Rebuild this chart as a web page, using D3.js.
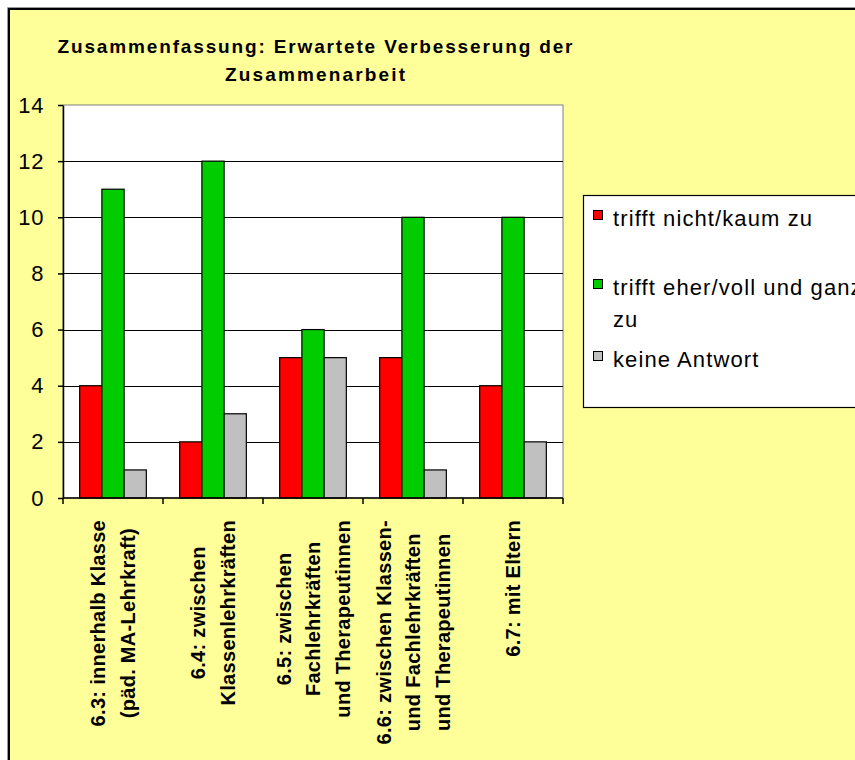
<!DOCTYPE html>
<html>
<head>
<meta charset="utf-8">
<script src="https://cdn.jsdelivr.net/npm/d3@7"></script>
<style>
    body { margin: 0; background: #fff; }
    svg { display: block; font-family: "Liberation Sans", Arial, sans-serif; }
</style>
</head>
<body>
<div id="chart"></div>
<script>
const categories = [
    ['6.3: innerhalb Klasse', '(päd. MA-Lehrkraft)'],
    ['6.4: zwischen', 'Klassenlehrkräften'],
    ['6.5: zwischen', 'Fachlehrkräften', 'und Therapeutinnen'],
    ['6.6: zwischen Klassen-', 'und Fachlehrkräften', 'und Therapeutinnen'],
    ['6.7: mit Eltern']
];
const seriesNames = ['trifft nicht/kaum zu', 'trifft eher/voll und ganz zu', 'keine Antwort'];
const nichtKaum = [4, 2, 5, 5, 4];
const eherVoll = [11, 12, 6, 10, 10];
const keineAntwort = [1, 3, 5, 1, 2];
const yTicks = [0, 2, 4, 6, 8, 10, 12, 14];
const titleLines = ['Zusammenfassung: Erwartete Verbesserung der', 'Zusammenarbeit'];

const config = {
    width: 855,
    height: 760,
    plotLeft: 63,
    plotRight: 563,
    plotTop: 105,
    plotBottom: 498
};

const colors = ['#ff0000', '#00cc00', '#c0c0c0'];
const allSeries = [nichtKaum, eherVoll, keineAntwort];

const svg = d3.select('#chart')
    .append('svg')
    .attr('width', config.width)
    .attr('height', config.height);

// chart frame
svg.append('rect')
    .attr('x', 9).attr('y', 9)
    .attr('width', 900).attr('height', 800)
    .attr('fill', '#ffff99')
    .attr('stroke', '#000')
    .attr('stroke-width', 2);
svg.append('path')
    .attr('d', 'M7.5,900V7.5H900')
    .attr('fill', 'none')
    .attr('stroke', '#999')
    .attr('stroke-width', 1);

// title
svg.append('g')
    .selectAll('text')
    .data(titleLines)
    .join('text')
    .attr('x', 315)
    .attr('y', (d, i) => 53 + i * 28)
    .attr('text-anchor', 'middle')
    .attr('font-size', '19px')
    .attr('font-weight', 'bold')
    .attr('textLength', (d, i) => i === 0 ? 515 : 180)
    .attr('lengthAdjust', 'spacing')
    .text(d => d);

const x = d3.scaleBand()
    .domain(d3.range(categories.length))
    .range([config.plotLeft, config.plotRight])
    .padding(0);

const xInner = d3.scaleBand()
    .domain(d3.range(seriesNames.length))
    .range([0, x.bandwidth()])
    .paddingInner(0)
    .paddingOuter(0.75);

const y = d3.scaleLinear()
    .domain([0, 14])
    .range([config.plotBottom, config.plotTop]);

// plot area
svg.append('rect')
    .attr('x', config.plotLeft).attr('y', config.plotTop)
    .attr('width', config.plotRight - config.plotLeft)
    .attr('height', config.plotBottom - config.plotTop)
    .attr('fill', '#fff')
    .attr('stroke', '#808080')
    .attr('stroke-width', 1);

// gridlines
svg.append('g')
    .selectAll('line')
    .data(yTicks.filter(t => t > 0 && t < 14))
    .join('line')
    .attr('x1', config.plotLeft)
    .attr('x2', config.plotRight)
    .attr('y1', d => Math.round(y(d)) + 0.5)
    .attr('y2', d => Math.round(y(d)) + 0.5)
    .attr('stroke', '#000')
    .attr('stroke-width', 1.2);

// bars
allSeries.forEach((values, s) => {
    svg.append('g')
        .selectAll('rect')
        .data(values)
        .join('rect')
        .attr('x', (d, i) => x(i) + xInner(s))
        .attr('y', d => y(d))
        .attr('width', xInner.bandwidth())
        .attr('height', d => y(0) - y(d))
        .attr('fill', colors[s])
        .attr('stroke', '#000')
        .attr('stroke-width', 1.2);
});

// y axis
const yAxis = svg.append('g')
    .attr('transform', `translate(${config.plotLeft},0)`)
    .call(d3.axisLeft(y).tickValues(yTicks).tickSize(5).tickPadding(14).tickSizeOuter(0));
yAxis.select('.domain').attr('stroke-width', 1.5);
yAxis.selectAll('.tick line').attr('stroke-width', 1.5);
yAxis.selectAll('.tick text')
    .attr('font-size', '22px')
    .attr('font-family', '"Liberation Sans", Arial, sans-serif')
    .attr('letter-spacing', '0.6px')
    .attr('fill', '#000');

// x axis
const xAxis = svg.append('g')
    .attr('transform', `translate(0,${config.plotBottom})`);
xAxis.append('line')
    .attr('x1', config.plotLeft).attr('x2', config.plotRight)
    .attr('stroke', '#000').attr('stroke-width', 1.5);
xAxis.selectAll('line.tick')
    .data(d3.range(categories.length + 1))
    .join('line')
    .attr('class', 'tick')
    .attr('x1', d => d < categories.length ? x(d) : config.plotRight)
    .attr('x2', d => d < categories.length ? x(d) : config.plotRight)
    .attr('y1', 0).attr('y2', 6)
    .attr('stroke', '#000').attr('stroke-width', 1.5);

// category labels, rotated
const labelTop = 520;
const lineGap = 29.5;
categories.forEach((lines, i) => {
    const g = svg.append('g');
    const texts = g.selectAll('text')
        .data(lines)
        .join('text')
        .attr('font-size', '20px')
        .attr('font-weight', 'bold')
        .attr('letter-spacing', '0.3px')
        .attr('text-anchor', 'middle')
        .attr('dy', '0.36em')
        .text(d => d);
    const maxLen = d3.max(texts.nodes(), n => n.getComputedTextLength());
    const cx = x(i) + x.bandwidth() / 2;
    texts.attr('transform', (d, j) =>
        `translate(${cx + (j - (lines.length - 1) / 2) * lineGap},${labelTop + maxLen / 2}) rotate(-90)`);
});

// legend
const legend = svg.append('g');
legend.append('rect')
    .attr('x', 583.5).attr('y', 195.5)
    .attr('width', 400).attr('height', 212)
    .attr('fill', '#fff')
    .attr('stroke', '#000')
    .attr('stroke-width', 1.2);

const legendRows = [
    { lines: ['trifft nicht/kaum zu'], base: 226 },
    { lines: ['trifft eher/voll und ganz', 'zu'], base: 295 },
    { lines: ['keine Antwort'], base: 367 }
];
legendRows.forEach((row, s) => {
    legend.append('rect')
        .attr('x', 593.5).attr('y', row.base - 15.5)
        .attr('width', 9).attr('height', 9)
        .attr('fill', colors[s])
        .attr('stroke', '#000')
        .attr('stroke-width', 1);
    legend.append('g')
        .selectAll('text')
        .data(row.lines)
        .join('text')
        .attr('x', 613)
        .attr('y', (d, j) => row.base + j * 31.7)
        .attr('font-size', '22px')
        .attr('letter-spacing', '1.1px')
        .attr('fill', '#000')
        .text(d => d);
});
</script>
</body>
</html>
